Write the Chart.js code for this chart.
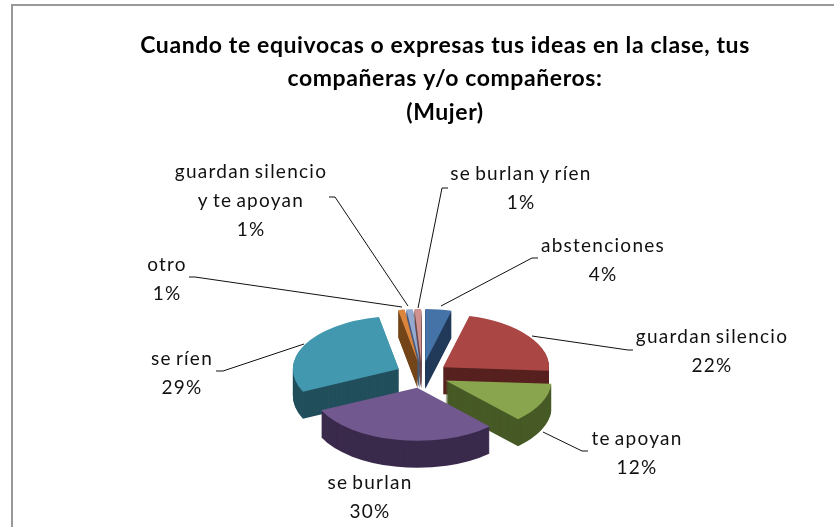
<!DOCTYPE html>
<html><head><meta charset="utf-8">
<style>html,body{margin:0;padding:0;background:#fff}#w{position:relative;width:834px;height:527px}</style>
<script src="https://cdn.jsdelivr.net/npm/chart.js@4/dist/chart.umd.min.js"></script>
</head><body><div id="w"><canvas id="c" width="834" height="527"></canvas></div>
<script>
const titleLines = ["Cuando te equivocas o expresas tus ideas en la clase, tus","compañeras y/o compañeros:","(Mujer)"];
const categories = ["abstenciones","guardan silencio","te apoyan","se burlan","se ríen","otro","guardan silencio y te apoyan","se burlan y ríen"];
const values = [4,22,12,30,29,1,1,1];
const topColors = ["#4573A7","#AA4644","#89A54E","#71588F","#4198AF","#DB843D","#93A9CF","#D19392"];
const wallColors = ["#223A5A","#57211F","#475A26","#3A2A4C","#224F5C","#74461A","#4A5B7A","#6E4B4B"];
const labelLines = [["abstenciones"],["guardan silencio"],["te apoyan"],["se burlan"],["se ríen"],["otro"],["guardan silencio","y te apoyan"],["se burlan y ríen"]];
const labelAnchors = [[603,246],[712,337],[637,439],[370,483],[182,359],[167,265],[251,172],[521,174]];
const leaderPaths = [
  [[441,306],[532,258],[538,258]],
  [[532,336],[628,350],[633,350]],
  [[543,432],[582,451],[588,451]],
  null,
  [[304,344],[223,371],[216,371]],
  [[402,307],[195,277],[189,277]],
  [[408,306],[335,197],[329,197]],
  [[418,308],[442,188],[448,188]]
];
const CX=422, CY=375, FLAT=0.5, EXPLODE=26, DEPTH=27;

const pie3d = {
  id:'pie3d',
  beforeDraw(chart){ chart.ctx.letterSpacing='0.6px'; },
  beforeDatasetsDraw(chart){
    const c=chart.ctx; c.letterSpacing='0px';
    c.save(); c.strokeStyle='#999'; c.lineWidth=2;
    c.beginPath(); c.moveTo(12,530); c.lineTo(12,5); c.lineTo(836,5); c.stroke(); c.restore();
  },
  beforeDatasetDraw(chart,args){
    const c=chart.ctx, arcs=args.meta.data;
    const order=arcs.map((el,i)=>{
      const mid=(el.startAngle+el.endAngle)/2; return {el,i,mid,s:Math.sin(mid)};
    }).sort((a,b)=>a.s-b.s);
    order.forEach(({el,i,mid})=>{
      const orig=el.options;
      const paint=(dy,color)=>{
        el.options={backgroundColor:color,borderWidth:0,offset:0,spacing:0,borderRadius:0,borderAlign:'center',circular:true};
        c.save();
        c.translate(CX,CY+dy); c.scale(1,FLAT);
        c.translate(Math.cos(mid)*EXPLODE,Math.sin(mid)*EXPLODE);
        c.translate(-el.x,-el.y);
        el.draw(c);
        c.restore();
      };
      for(let d=DEPTH;d>=1;d--) paint(d,wallColors[i]);
      paint(0,topColors[i]);
      el.options=orig;
    });
    return false;
  },
  afterDraw(chart){
    const c=chart.ctx;
    c.save();
    c.strokeStyle='#111'; c.lineWidth=1;
    leaderPaths.forEach(p=>{ if(!p) return; c.beginPath(); p.forEach((q,k)=>k?c.lineTo(q[0],q[1]):c.moveTo(q[0],q[1])); c.stroke(); });
    c.fillStyle='#111'; c.font='19px Lato'; c.textAlign='center'; c.textBaseline='middle';
    c.letterSpacing='1.25px'; c.wordSpacing='-2px';
    const t=values.reduce((a,b)=>a+b,0);
    labelLines.forEach((ls,i)=>{
      const lines=ls.concat([Math.round(values[i]/t*100)+'%']);
      lines.forEach((s,j)=>c.fillText(s,labelAnchors[i][0],labelAnchors[i][1]+j*28.8));
    });
    c.restore();
  }
};

new Chart(document.getElementById('c'),{
  type:'pie',
  data:{labels:categories,datasets:[{data:values,backgroundColor:topColors,borderWidth:0,radius:106}]},
  options:{
    responsive:false,animation:false,
    layout:{padding:{left:56,top:0}},
    plugins:{
      legend:{display:false},tooltip:{enabled:false},
      title:{display:true,text:titleLines,color:'#000',font:{family:'Lato',size:23,weight:'bold',lineHeight:1.45},padding:{top:29,bottom:0}}
    }
  },
  plugins:[pie3d]
});
</script></body></html>
